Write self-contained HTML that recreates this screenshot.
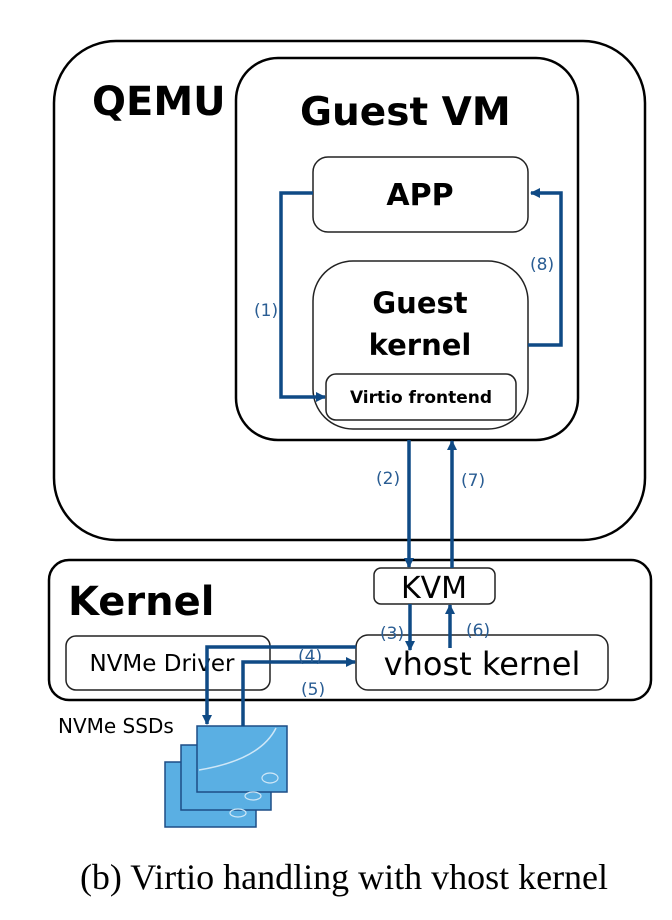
<!DOCTYPE html>
<html><head><meta charset="utf-8"><style>
html,body{margin:0;padding:0;background:#fff;width:672px;height:920px;overflow:hidden}
svg{display:block}
.b{font-family:"DejaVu Sans","Liberation Sans",sans-serif;font-weight:bold;fill:#000}
.n{font-family:"DejaVu Sans","Liberation Sans",sans-serif;fill:#000}
.l{font-family:"DejaVu Sans","Liberation Sans",sans-serif;fill:#2a5d93;font-size:17px}
</style></head><body>
<svg width="672" height="920" viewBox="0 0 672 920" xmlns="http://www.w3.org/2000/svg">
<defs>
<marker id="a" markerWidth="10" markerHeight="10" refX="9" refY="5" orient="auto" markerUnits="userSpaceOnUse" viewBox="0 0 10 10"><path d="M0,0 L10,5 L0,10 z" fill="#0f4a85"/></marker>
</defs>
<g fill="none" stroke="#000" stroke-width="2.5">
<rect x="54" y="41" width="591" height="499" rx="62"/>
<rect x="236" y="58" width="342" height="382" rx="42"/>
<rect x="49" y="560" width="602" height="140" rx="20"/>
</g>
<g fill="#fff" stroke="#222" stroke-width="1.5">
<rect x="313" y="157" width="215" height="75" rx="15"/>
<rect x="313" y="261" width="215" height="168" rx="40"/>
<rect x="326" y="374" width="190" height="46" rx="10"/>
<rect x="374" y="568" width="121" height="36" rx="7"/>
<rect x="66" y="636" width="204" height="54" rx="10"/>
<rect x="356" y="635" width="252" height="55" rx="12"/>
</g>
<text x="92" y="115" class="b" font-size="40">QEMU</text>
<text x="300" y="125" class="b" font-size="39">Guest VM</text>
<text x="420" y="205" class="b" font-size="30" text-anchor="middle">APP</text>
<text x="420" y="313" class="b" font-size="29" text-anchor="middle">Guest</text>
<text x="420" y="355" class="b" font-size="29" text-anchor="middle">kernel</text>
<text x="421" y="403" class="b" font-size="17" text-anchor="middle">Virtio frontend</text>
<text x="68" y="615" class="b" font-size="40">Kernel</text>
<text x="434" y="598" class="n" font-size="30" text-anchor="middle">KVM</text>
<text x="162" y="671" class="n" font-size="23" text-anchor="middle">NVMe Driver</text>
<text x="482" y="675" class="n" font-size="32" text-anchor="middle">vhost kernel</text>
<text x="58" y="733" class="n" font-size="20">NVMe SSDs</text>
<g stroke="#1d4d86" stroke-width="1.5" fill="#5aafe3">
<rect x="165" y="762" width="91" height="65"/>
<rect x="181" y="745" width="90" height="65"/>
<rect x="197" y="726" width="90" height="66"/>
</g>
<path d="M199,770 Q260,760 276,728" stroke="#cfe7f7" stroke-width="1.5" fill="none"/>
<ellipse cx="270" cy="778" rx="8" ry="5" fill="none" stroke="#cfe7f7" stroke-width="1.2"/>
<ellipse cx="253" cy="796" rx="8" ry="4" fill="none" stroke="#cfe7f7" stroke-width="1.2"/>
<ellipse cx="238" cy="813" rx="8" ry="4" fill="none" stroke="#cfe7f7" stroke-width="1.2"/>
<g fill="none" stroke="#0f4a85" stroke-width="3.5">
<path d="M313,193 H281 V397 H325" marker-end="url(#a)"/>
<path d="M528,345 H561 V193 H531" marker-end="url(#a)"/>
<path d="M409,440 V567" marker-end="url(#a)"/>
<path d="M452,568 V441" marker-end="url(#a)"/>
<path d="M410,604 V650" marker-end="url(#a)"/>
<path d="M450,648 V605" marker-end="url(#a)"/>
<path d="M356,647 H207 V724" marker-end="url(#a)"/>
<path d="M243,726 V662 H355" marker-end="url(#a)"/>
</g>
<text x="254" y="316" class="l">(1)</text>
<text x="530" y="270" class="l">(8)</text>
<text x="376" y="484" class="l">(2)</text>
<text x="461" y="486" class="l">(7)</text>
<text x="380" y="639" class="l">(3)</text>
<text x="466" y="636" class="l">(6)</text>
<text x="298" y="662" class="l">(4)</text>
<text x="301" y="695" class="l">(5)</text>
<text x="344" y="889" font-family="'Liberation Serif',serif" font-size="36" text-anchor="middle" fill="#000">(b) Virtio handling with vhost kernel</text>
</svg>
</body></html>
